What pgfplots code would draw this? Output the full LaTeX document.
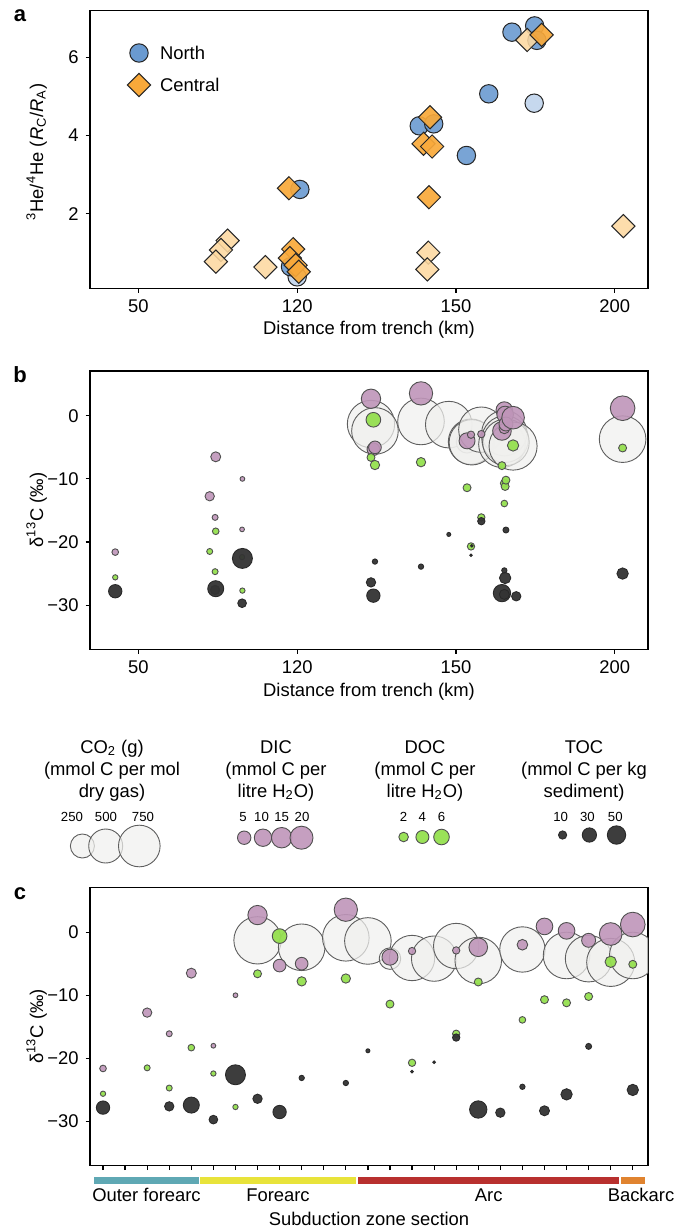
\documentclass[border=0pt]{standalone}
\usepackage{fontspec}
\setmainfont{Liberation Sans}
\usepackage{pgfplots}
\pgfplotsset{compat=1.18}
\usepackage{pgfplotstable}

\definecolor{nd}{HTML}{6A9AD0}
\definecolor{nl}{HTML}{C0D4EC}
\definecolor{cd}{HTML}{F9A93A}
\definecolor{cl}{HTML}{FDD8A0}
\definecolor{co2f}{HTML}{F0F0EE}
\definecolor{co2e}{HTML}{5E5E5E}
\definecolor{dicf}{HTML}{BF95B9}
\definecolor{docf}{HTML}{95E04F}
\definecolor{tocf}{HTML}{333333}
\definecolor{edg}{HTML}{505050}
\definecolor{bar1}{HTML}{5FA8B4}
\definecolor{bar2}{HTML}{E8E33A}
\definecolor{bar3}{HTML}{B8302E}
\definecolor{bar4}{HTML}{E0832F}

\newcommand\fs{\fontsize{9.2}{11}\selectfont}
\newcommand\fsn{\fontsize{6.6}{8}\selectfont}

% panel a: u = position on the distance axis (ticks 50,120,150,200 sit at 0,1,2,3)
\pgfplotstableread{
u y
1.017 2.62
2.353 6.65
2.496 6.81
2.51 6.44
2.207 5.07
1.769 4.25
1.86 4.30
2.066 3.49
0.958 0.64
}\northdark
\pgfplotstableread{
u y
2.493 4.83
1.0 0.38
}\northlight
\pgfplotstableread{
u y
0.948 2.65
2.54 6.58
1.837 4.47
1.796 3.79
1.85 3.72
1.83 2.42
0.975 1.09
0.954 0.86
0.99 0.68
1.01 0.51
}\centraldark
\pgfplotstableread{
u y
2.449 6.45
0.562 1.31
0.52 1.07
0.488 0.77
0.80 0.63
1.826 1.0
1.82 0.57
3.055 1.68
}\centrallight

% panels b,c: s = site (panel c), u = distance position (panel b), d = d13C, v = amount
\pgfplotstableread{
s u d v
7 1.465 -1.3 970
9 1.49 -2.4 940
11 1.78 -0.9 940
12 1.955 -1.4 940
13 2.07 -4.2 200
14 2.095 -4.1 890
15 2.10 -4.2 890
16 2.16 -2.2 890
17 2.29 -4.5 940
19 2.305 -2.75 890
21 2.31 -3.7 940
22 2.315 -4.2 940
23 2.36 -4.8 1000
24 3.05 -3.7 940
}\cotwo
\pgfplotstableread{
s u d v
0 -0.146 -21.6 0.44
2 0.449 -12.75 1.66
3 0.483 -16.1 0.26
4 0.487 -6.5 2.08
5 0.653 -18.0 0.05
6 0.655 -10.0 0.05
7 1.465 2.7 13.0
8 1.48 -5.3 4.25
9 1.49 -5.0 4.25
11 1.78 3.55 20.6
13 2.07 -3.97 8.05
14 2.095 -3.0 0.68
16 2.16 -2.9 0.68
17 2.29 -2.4 11.9
19 2.305 -2.0 2.55
20 2.305 0.9 8.95
21 2.31 0.2 8.95
22 2.315 -1.3 5.6
23 2.36 -0.3 19.2
24 3.05 1.2 23.5
}\dic
\pgfplotstableread{
s u d v
0 -0.146 -25.6 0.46
2 0.449 -21.5 0.63
3 0.483 -24.7 0.63
4 0.487 -18.3 0.82
5 0.653 -22.4 0.46
6 0.655 -27.7 0.46
7 1.465 -6.6 1.29
8 1.48 -0.63 5.23
9 1.49 -7.8 1.87
11 1.78 -7.35 1.87
13 2.07 -11.4 1.29
14 2.095 -20.7 1.05
16 2.16 -16.1 1.05
17 2.29 -7.9 1.29
19 2.305 -13.9 0.82
20 2.305 -10.7 1.29
21 2.31 -11.2 1.29
22 2.315 -10.2 1.29
23 2.36 -4.7 2.94
24 3.05 -5.1 1.29
}\doc
\pgfplotstableread{
s u d v
0 -0.146 -27.8 26.3
3 0.483 -27.6 12.9
4 0.487 -27.4 37.9
5 0.653 -29.7 11.1
6 0.655 -22.6 59
7 1.465 -26.4 12.9
8 1.48 -28.5 26.3
9 1.49 -23.1 4.2
11 1.78 -23.9 4.2
12 1.955 -18.8 2.4
14 2.095 -22.1 1.05
15 2.10 -20.6 1.05
16 2.16 -16.7 8.0
17 2.29 -28.1 44.4
18 2.38 -28.6 12.9
19 2.305 -24.5 4.2
20 2.305 -28.3 14.8
21 2.31 -25.7 19
22 2.315 -18.1 5.3
24 3.05 -25.0 19
}\toc

% size legend keys (x, y in pixel units of the overlay axis)
\pgfplotstableread{
x y v
82.4 846 250
105.7 846 500
139.3 846 750
}\legco
\pgfplotstableread{
x y v
244.2 837.7 5
263 837.7 10
281.7 837.7 15
301.5 837.7 20
}\legdic
\pgfplotstableread{
x y v
403.6 837 2
422.4 837 4
441.5 837 6
}\legdoc
\pgfplotstableread{
x y v
562.6 835 10
589.4 835 30
616.5 835 50
}\legtoc

\pgfplotsset{
  panel/.style={scale only axis, width=279pt, anchor=south west,
    axis line style={line width=0.6pt}, tick align=outside, tick pos=left,
    major tick length=2.2pt, tick style={black, line width=0.6pt},
    clip marker paths=true,
    tick label style={font=\fs}, /pgf/number format/assume math mode=true},
  bubble/.style n args={4}{scatter, only marks, mark=*,
    scatter/use mapped color={draw=#2, fill=#1},
    mark options={fill opacity=#3, line width=0.45pt},
    visualization depends on={#4 \as \rad},
    scatter/@pre marker code/.append style={/tikz/mark size=\rad}},
  co2/.style={bubble={co2f}{co2e}{0.72}{0.38*sqrt(\thisrow{v})}},
  dicb/.style={bubble={dicf}{edg}{0.9}{0.95+1.075*sqrt(\thisrow{v})}},
  docb/.style={bubble={docf}{edg}{0.95}{0.35+1.45*sqrt(\thisrow{v})}},
  tocb/.style={bubble={tocf}{tocf!80!black}{0.95}{0.65*sqrt(\thisrow{v})}},
}

\begin{document}
\begin{tikzpicture}
% ---- panel a ----
\begin{axis}[panel, at={(45pt,470.85pt)}, height=138.8pt,
  xmin=-0.305, xmax=3.21, ymin=0.087, ymax=7.2,
  xtick={0,1,2,3}, xticklabels={50,120,150,200},
  ytick={2,4,6}, yticklabels={2,4,6}]
\addplot[only marks, mark=*, mark size=4.6pt, mark options={draw=black!85, fill=nl, fill opacity=0.9, line width=0.5pt}] table[x=u,y=y]{\northlight};
\addplot[only marks, mark=*, mark size=4.6pt, mark options={draw=black!85, fill=nd, fill opacity=0.9, line width=0.5pt}] table[x=u,y=y]{\northdark};
\addplot[only marks, mark=square*, mark size=4.1pt, mark options={rotate=45, draw=black!85, fill=cl, fill opacity=0.88, line width=0.5pt}] table[x=u,y=y]{\centrallight};
\addplot[only marks, mark=square*, mark size=4.1pt, mark options={rotate=45, draw=black!85, fill=cd, fill opacity=0.92, line width=0.5pt}] table[x=u,y=y]{\centraldark};
\end{axis}

% ---- panel b ----
\begin{axis}[panel, at={(45pt,290.35pt)}, height=139.15pt,
  xmin=-0.305, xmax=3.21, ymin=-37, ymax=7.1,
  xtick={0,1,2,3}, xticklabels={50,120,150,200},
  ytick={-30,-20,-10,0}, yticklabels={−30,−20,−10,0}]
\addplot[co2] table[x=u,y=d]{\cotwo};
\addplot[dicb] table[x=u,y=d]{\dic};
\addplot[docb] table[x=u,y=d]{\doc};
\addplot[tocb] table[x=u,y=d]{\toc};
\end{axis}

% ---- panel c ----
\begin{axis}[panel, at={(45pt,32.15pt)}, height=139.2pt,
  xmin=-0.59, xmax=24.69, ymin=-37, ymax=7.1,
  xtick={0,...,24}, xticklabels={},
  ytick={-30,-20,-10,0}, yticklabels={−30,−20,−10,0}]
\addplot[co2] table[x=s,y=d]{\cotwo};
\addplot[dicb] table[x=s,y=d]{\dic};
\addplot[docb] table[x=s,y=d]{\doc};
\addplot[tocb] table[x=s,y=d]{\toc};
\end{axis}

% ---- labels, size legend and section bars (axis in pixel units) ----
\begin{axis}[at={(0pt,0pt)}, anchor=south west, scale only axis,
  width=342pt, height=615pt, xmin=0, xmax=684, ymin=0, ymax=1230,
  y dir=reverse, hide axis, clip=false]
\node[font=\bfseries\fontsize{11}{13}\selectfont] at (20,16) {a};
\node[font=\bfseries\fontsize{11}{13}\selectfont] at (20,375) {b};
\node[font=\bfseries\fontsize{11}{13}\selectfont] at (20,894) {c};

\node[font=\fs, anchor=base] at (369,334) {Distance from trench (km)};
\node[font=\fs, anchor=base] at (369,696) {Distance from trench (km)};
\node[font=\fs, anchor=base, rotate=90] at (43,152) {\textsuperscript{3}He/\textsuperscript{4}He (\textit{R}\textsubscript{C}/\textit{R}\textsubscript{A})};
\node[font=\fs, anchor=base, rotate=90] at (43,510) {δ\textsuperscript{13}C (‰)};
\node[font=\fs, anchor=base, rotate=90] at (43,1026.5) {δ\textsuperscript{13}C (‰)};

% legend of panel a
\addplot[only marks, mark=*, mark size=4.6pt, mark options={draw=black!85, fill=nd, line width=0.5pt}] coordinates {(139,53)};
\addplot[only marks, mark=square*, mark size=4.1pt, mark options={rotate=45, draw=black!85, fill=cd, line width=0.5pt}] coordinates {(139,85)};
\node[font=\fs, anchor=west] at (153,53) {North};
\node[font=\fs, anchor=west] at (153,85) {Central};

% size legend
\node[font=\fs, anchor=base] at (112,753) {CO\textsubscript{2} (g)};
\node[font=\fs, anchor=base] at (112,775) {(mmol C per mol};
\node[font=\fs, anchor=base] at (112,797) {dry gas)};
\node[font=\fs, anchor=base] at (276,753) {DIC};
\node[font=\fs, anchor=base] at (276,775) {(mmol C per};
\node[font=\fs, anchor=base] at (276,797) {litre H\textsubscript{2}O)};
\node[font=\fs, anchor=base] at (425,753) {DOC};
\node[font=\fs, anchor=base] at (425,775) {(mmol C per};
\node[font=\fs, anchor=base] at (425,797) {litre H\textsubscript{2}O)};
\node[font=\fs, anchor=base] at (584,753) {TOC};
\node[font=\fs, anchor=base] at (584,775) {(mmol C per kg};
\node[font=\fs, anchor=base] at (584,797) {sediment)};

\node[font=\fsn, anchor=base] at (72,821.5) {250};
\node[font=\fsn, anchor=base] at (106,821.5) {500};
\node[font=\fsn, anchor=base] at (143,821.5) {750};
\node[font=\fsn, anchor=base] at (243,821.5) {5};
\node[font=\fsn, anchor=base] at (261.5,821.5) {10};
\node[font=\fsn, anchor=base] at (281.7,821.5) {15};
\node[font=\fsn, anchor=base] at (302,821.5) {20};
\node[font=\fsn, anchor=base] at (403.6,821.5) {2};
\node[font=\fsn, anchor=base] at (422.4,821.5) {4};
\node[font=\fsn, anchor=base] at (441.5,821.5) {6};
\node[font=\fsn, anchor=base] at (560.6,821.5) {10};
\node[font=\fsn, anchor=base] at (587.4,821.5) {30};
\node[font=\fsn, anchor=base] at (615.3,821.5) {50};

\addplot[co2] table[x=x,y=y]{\legco};
\addplot[dicb] table[x=x,y=y]{\legdic};
\addplot[docb] table[x=x,y=y]{\legdoc};
\addplot[tocb] table[x=x,y=y]{\legtoc};

% section bars of panel c
\fill[bar1] (axis cs:94,1177) rectangle (axis cs:199,1184);
\fill[bar2] (axis cs:200,1177) rectangle (axis cs:356,1184);
\fill[bar3] (axis cs:358.3,1177) rectangle (axis cs:619,1184);
\fill[bar4] (axis cs:621,1177) rectangle (axis cs:644.7,1184);
\node[font=\fs, anchor=base] at (146.5,1201) {Outer forearc};
\node[font=\fs, anchor=base] at (278,1201) {Forearc};
\node[font=\fs, anchor=base] at (488.7,1201) {Arc};
\node[font=\fs, anchor=base] at (641,1201) {Backarc};
\node[font=\fs, anchor=base] at (369,1225) {Subduction zone section};
\end{axis}
\pgfresetboundingbox
\useasboundingbox (0pt,0pt) rectangle (342pt,615pt);
\end{tikzpicture}
\end{document}
